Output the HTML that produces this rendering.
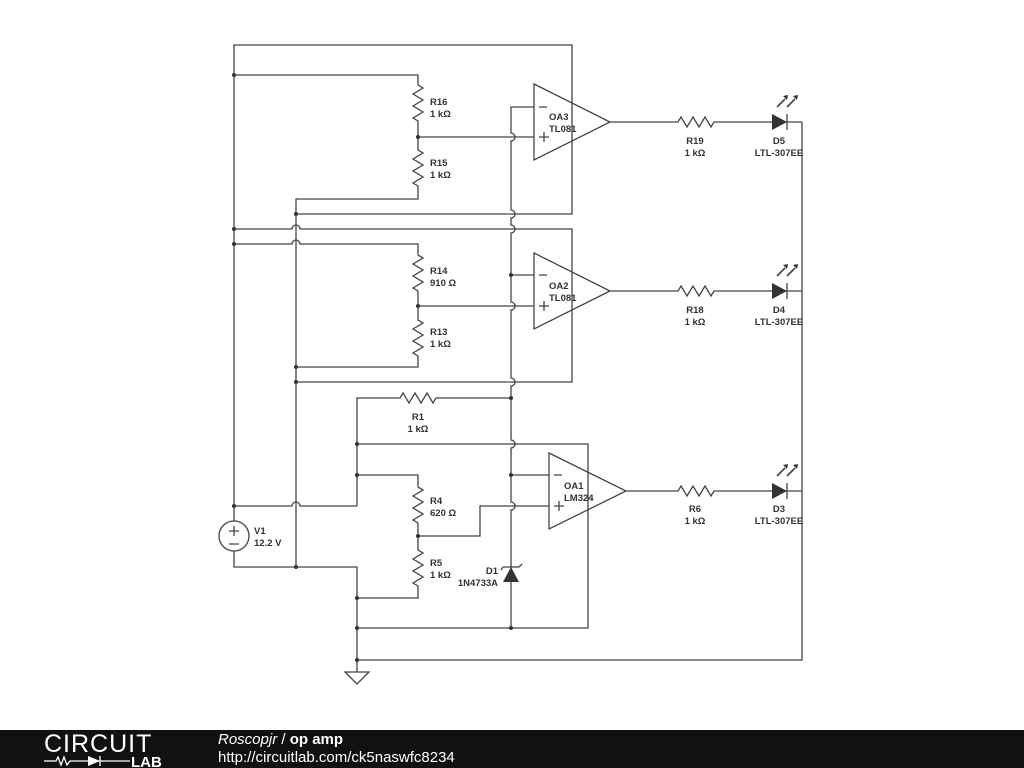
<!DOCTYPE html>
<html><head><style>
body{margin:0;width:1024px;height:768px;background:#fff;overflow:hidden;font-family:"Liberation Sans",sans-serif}
#bar{position:absolute;left:0;top:730px;width:1024px;height:38px;background:#111}
</style></head><body>
<svg width="1024" height="730" style="position:absolute;left:0;top:0" font-family="Liberation Sans, sans-serif" font-size="9.5" font-weight="bold" fill="#333">
<g stroke="#444" stroke-width="1.3" fill="none">
<path d="M234,506 V45 H572 V214 H296"/>
<path d="M234,75 H418 V85 l5,3 -10,6 10,6 -10,6 10,6 -10,6 5,3 V150 l5,3 -10,6 10,6 -10,6 10,6 -10,6 5,3 V199 H296 V567"/>
<path d="M418,137 H534"/>
<path d="M534,107 H511 V133 a4,4 0 0 1 0,8 V210 a4,4 0 0 1 0,8 V225 a4,4 0 0 1 0,8 V302 a4,4 0 0 1 0,8 V378 a4,4 0 0 1 0,8 V440 a4,4 0 0 1 0,8 V502 a4,4 0 0 1 0,8 V628"/>
<path d="M234,229 H292 a4,4 0 0 1 8,0 H572 V382 H296"/>
<path d="M234,244 H292 a4,4 0 0 1 8,0 H418 V255 l5,3 -10,6 10,6 -10,6 10,6 -10,6 5,3 V320 l5,3 -10,6 10,6 -10,6 10,6 -10,6 5,3 V367 H296"/>
<path d="M418,306 H534 M511,275 H534"/>
<path d="M357,506 V398 H400 l3,-5 6,10 6,-10 6,10 6,-10 6,10 3,-5 H511"/>
<path d="M357,444 H588 V628 H357"/>
<path d="M357,475 H418 V487 l5,3 -10,6 10,6 -10,6 10,6 -10,6 5,3 V550 l5,3 -10,6 10,6 -10,6 10,6 -10,6 5,3 V598 H357"/>
<path d="M418,536 H480 V506 H549 M511,475 H549"/>
<path d="M234,506 H292 a4,4 0 0 1 8,0 H357"/>
<path d="M234,521 V506 M234,551 V567 H357 V672 M357,660 H802 V122"/>
<circle cx="234" cy="536" r="15"/>
<path d="M229,531 h10 M234,526 v10 M229,544 h10"/>
<path d="M345,672 h24 l-12,12 z"/>
<path d="M534,84 L610,122 L534,160 Z M534,253 L610,291 L534,329 Z M549,453 L626,491 L549,529 Z"/>
<path d="M539,107 h8 M539,137 h10 M544,132 v10 M539,275 h8 M539,306 h10 M544,301 v10 M554,475 h8 M554,506 h10 M559,501 v10"/>
<path d="M610,122 H678 l3,-5 6,10 6,-10 6,10 6,-10 6,10 3,-5 H772 M787,122 H802"/>
<path d="M610,291 H678 l3,-5 6,10 6,-10 6,10 6,-10 6,10 3,-5 H772 M787,291 H802"/>
<path d="M626,491 H678 l3,-5 6,10 6,-10 6,10 6,-10 6,10 3,-5 H772 M787,491 H802"/>
<path d="M787,114 v16 M787,283 v16 M787,483 v16"/>
<path d="M777,107 l8,-8 M787,107 l8,-8 M777,276 l8,-8 M787,276 l8,-8 M777,476 l8,-8 M787,476 l8,-8" stroke-width="1.6"/>
<path d="M503,567 h16 l3,-3 M503,567 l-2,3"/>
</g>
<g fill="#333" stroke="none">
<path d="M772,114 L787,122 L772,130 Z M772,283 L787,291 L772,299 Z M772,483 L787,491 L772,499 Z"/>
<path d="M783,96 l5,-1 -1,5 z M793,96 l5,-1 -1,5 z M783,265 l5,-1 -1,5 z M793,265 l5,-1 -1,5 z M783,465 l5,-1 -1,5 z M793,465 l5,-1 -1,5 z"/>
<path d="M503,582 L519,582 L511,567 Z"/>
<g>
<circle cx="234" cy="75" r="2"/><circle cx="418" cy="137" r="2"/><circle cx="296" cy="214" r="2"/>
<circle cx="234" cy="229" r="2"/><circle cx="234" cy="244" r="2"/><circle cx="511" cy="275" r="2"/>
<circle cx="418" cy="306" r="2"/><circle cx="296" cy="367" r="2"/><circle cx="296" cy="382" r="2"/>
<circle cx="511" cy="398" r="2"/><circle cx="357" cy="444" r="2"/><circle cx="357" cy="475" r="2"/>
<circle cx="511" cy="475" r="2"/><circle cx="234" cy="506" r="2"/><circle cx="418" cy="536" r="2"/>
<circle cx="296" cy="567" r="2"/><circle cx="357" cy="598" r="2"/><circle cx="357" cy="628" r="2"/>
<circle cx="511" cy="628" r="2"/><circle cx="357" cy="660" r="2"/>
</g>
<text x="430" y="105">R16</text><text x="430" y="117">1 kΩ</text>
<text x="430" y="166">R15</text><text x="430" y="178">1 kΩ</text>
<text x="430" y="274">R14</text><text x="430" y="286">910 Ω</text>
<text x="430" y="335">R13</text><text x="430" y="347">1 kΩ</text>
<text x="549" y="120">OA3</text><text x="549" y="132">TL081</text>
<text x="549" y="289">OA2</text><text x="549" y="301">TL081</text>
<text x="564" y="489">OA1</text><text x="564" y="501">LM324</text>
<text x="418" y="420" text-anchor="middle">R1</text><text x="418" y="432" text-anchor="middle">1 kΩ</text>
<text x="430" y="504">R4</text><text x="430" y="516">620 Ω</text>
<text x="430" y="566">R5</text><text x="430" y="578">1 kΩ</text>
<text x="498" y="574" text-anchor="end">D1</text><text x="498" y="586" text-anchor="end">1N4733A</text>
<text x="254" y="534">V1</text><text x="254" y="546">12.2 V</text>
<text x="695" y="144" text-anchor="middle">R19</text><text x="695" y="156" text-anchor="middle">1 kΩ</text>
<text x="695" y="313" text-anchor="middle">R18</text><text x="695" y="325" text-anchor="middle">1 kΩ</text>
<text x="695" y="512" text-anchor="middle">R6</text><text x="695" y="524" text-anchor="middle">1 kΩ</text>
<text x="779" y="144" text-anchor="middle">D5</text><text x="779" y="156" text-anchor="middle">LTL-307EE</text>
<text x="779" y="313" text-anchor="middle">D4</text><text x="779" y="325" text-anchor="middle">LTL-307EE</text>
<text x="779" y="512" text-anchor="middle">D3</text><text x="779" y="524" text-anchor="middle">LTL-307EE</text>
</g>
</svg>
<div id="bar">
<div style="position:absolute;left:44px;top:0px;color:#fff;font-size:25px;letter-spacing:1px">CIRCUIT</div>
<svg style="position:absolute;left:44px;top:24px" width="130" height="14"><path d="M0,7 H12 l2,-4 3,8 3,-8 3,8 3,-4 H56 M56,2 v10 M56,7 H86" stroke="#fff" stroke-width="1.3" fill="none"/><path d="M44,2 L56,7 L44,12 Z" fill="#fff"/><text x="87" y="13" fill="#fff" font-family="Liberation Sans" font-weight="bold" font-size="15">LAB</text></svg>
<div style="position:absolute;left:218px;top:1px;color:#fff;font-size:15px"><i>Roscopjr</i> / <b>op amp</b></div>
<div style="position:absolute;left:218px;top:19px;color:#fff;font-size:15px">http://circuitlab.com/ck5naswfc8234</div>
</div>
</body></html>
